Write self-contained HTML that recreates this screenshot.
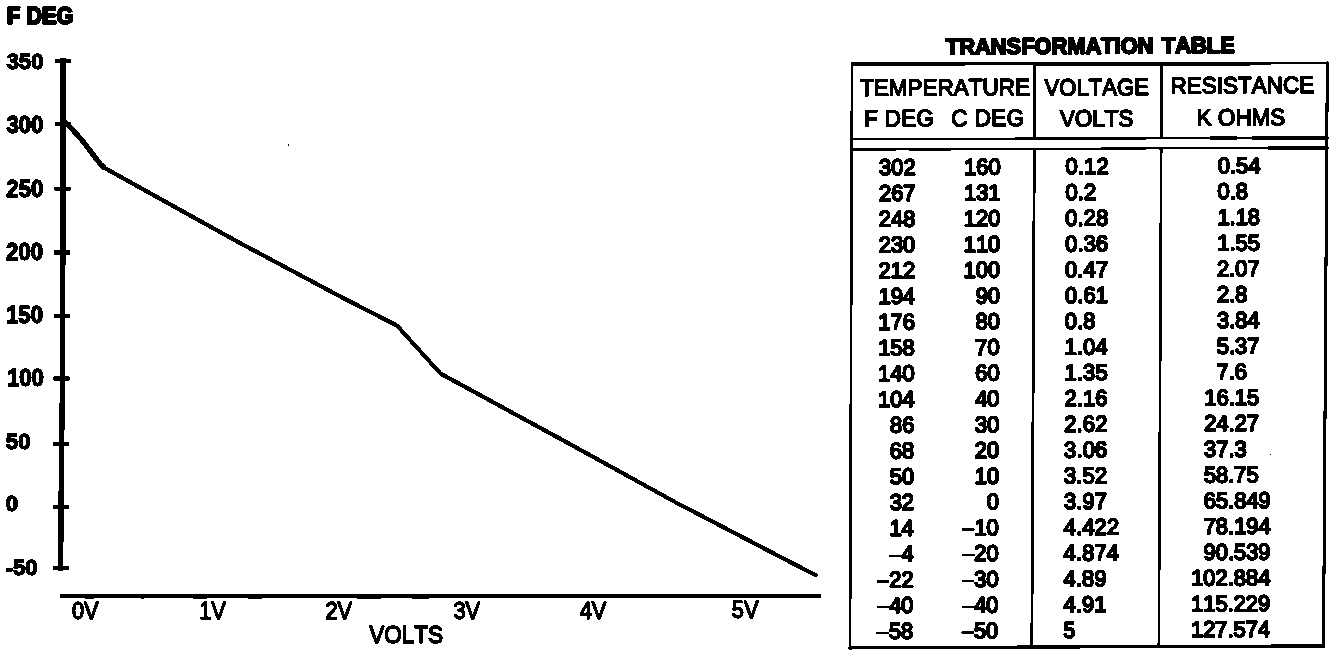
<!DOCTYPE html>
<html lang="en"><head><meta charset="utf-8"><title>Transformation Table</title>
<style>
html,body{margin:0;padding:0;background:#fff;}
body{width:1344px;height:656px;overflow:hidden;}
svg{display:block;}
text{font-family:"Liberation Sans",sans-serif;fill:#000;stroke:#000;stroke-linejoin:round;font-kerning:none;}
.fd{font-weight:bold;font-size:24px;stroke-width:2.2px;}
.yl{font-weight:bold;font-size:22.2px;stroke-width:1.35px;}
.xl{font-size:21.8px;stroke-width:1.4px;}
.xv{font-size:22.5px;stroke-width:1.5px;}
.ti{font-weight:bold;font-size:21.6px;stroke-width:1.9px;}
.th{font-size:22.5px;stroke-width:1.5px;}
.th2{font-size:22.45px;stroke-width:1.5px;}
.td{font-size:21.9px;stroke-width:1.9px;}
.mn{stroke-width:.5px;}
</style></head><body>
<svg width="1344" height="656" viewBox="0 0 1344 656">
<defs><filter id="bw" x="0" y="0" width="1344" height="656" filterUnits="userSpaceOnUse" color-interpolation-filters="sRGB"><feComponentTransfer><feFuncR type="discrete" tableValues="0 1"/><feFuncG type="discrete" tableValues="0 1"/><feFuncB type="discrete" tableValues="0 1"/></feComponentTransfer></filter></defs>
<g filter="url(#bw)">
<rect width="1344" height="656" fill="#fff"/>
<text class="fd" transform="translate(6.9,24.0) scale(1,1.0)" textLength="66.6" lengthAdjust="spacingAndGlyphs">F DEG</text>
<polygon points="60.2,58 66.0,58 65.3,350 63.8,500 63.3,570.8 58.2,570.8 58.4,500 60.1,350"/>
<rect x="55.0" y="58.8" width="16.2" height="4.2"/>
<text class="yl" transform="translate(6.5,69.4) scale(1,0.99)">350</text>
<rect x="54.7" y="121.6" width="16.2" height="4.2"/>
<text class="yl" transform="translate(6.4,133.3) scale(1,1.1)">300</text>
<rect x="54.4" y="186.6" width="16.2" height="4.2"/>
<text class="yl" transform="translate(6.3,197.0) scale(1,1.1)">250</text>
<rect x="54.1" y="250.4" width="16.2" height="4.2"/>
<text class="yl" transform="translate(6.1,260.2) scale(1,1.1)">200</text>
<rect x="53.8" y="314.0" width="16.2" height="4.2"/>
<text class="yl" transform="translate(6.0,322.5) scale(1,1.1)">150</text>
<rect x="53.5" y="376.5" width="16.2" height="4.2"/>
<text class="yl" transform="translate(6.9,385.6) scale(1,1.1)">100</text>
<rect x="53.2" y="442.0" width="16.2" height="4.2"/>
<text class="yl" transform="translate(5.8,449.4) scale(1,0.99)">50</text>
<rect x="52.9" y="504.6" width="16.2" height="4.2"/>
<text class="yl" transform="translate(5.7,511.2) scale(1,0.99)">0</text>
<rect x="52.6" y="566.0" width="16.2" height="4.2"/>
<text class="yl" transform="translate(5.5,575.0) scale(1,0.99)">-50</text>
<rect x="60" y="593.6" width="761.2" height="4.4"/>
<rect x="85" y="597.5" width="9" height="1.6"/>
<rect x="141" y="597.5" width="3" height="1.6"/>
<rect x="193" y="597.5" width="14" height="1.6"/>
<rect x="248" y="597.5" width="14" height="1.6"/>
<rect x="357" y="597.5" width="24" height="1.6"/>
<rect x="412" y="597.5" width="17" height="1.6"/>
<text class="xl" transform="translate(71.9,619.4) scale(1,1.065)">0V</text>
<text class="xl" transform="translate(199.2,619.4) scale(1,1.065)">1V</text>
<text class="xl" transform="translate(325.4,619.3) scale(1,1.065)">2V</text>
<text class="xl" transform="translate(453.4,619.2) scale(1,1.065)">3V</text>
<text class="xl" transform="translate(579.7,618.8) scale(1,1.065)">4V</text>
<text class="xl" transform="translate(731.8,617.8) scale(1,1.065)">5V</text>
<text class="xv" transform="translate(369.2,643.2) scale(1,1.07)">VOLTS</text>
<polyline fill="none" stroke="#000" stroke-width="5.2" stroke-linejoin="round" stroke-linecap="butt" points="62,119.6 67.7,124.6 80.4,138.2 90.1,150.6 99.9,163.6 104.2,167.9"/>
<polyline fill="none" stroke="#000" stroke-width="4.2" stroke-linejoin="round" stroke-linecap="round" points="103.6,167.3 238.7,242.3 340,296.4 397,325.6 440.6,373.7 560,438.7 675,502 815.5,575.2"/>
<rect x="288" y="144.5" width="1" height="1"/>
<text class="ti" transform="translate(1090.3,53.6) rotate(-0.33) scale(1,1.05)" text-anchor="middle" textLength="289" lengthAdjust="spacingAndGlyphs" word-spacing="2.2">TRANSFORMATION TABLE</text>
<polygon points="851.2,61.9 965,61.9 965,62.5 1034,62.4 1034,61.9 1328.4,61.6 1328.4,64.3 1250,64.5 1250,65.9 1034,66.1 1034,64.7 965,64.7 965,66.0 851.2,66.0"/>
<polygon points="848.7,646.2 1325.0,644.4 1325.0,647.6 848.7,649.5"/>
<polygon points="850.7,62.0 853.3,62.0 851.3,649.5 848.7,649.5"/>
<polygon points="1033.3,62.0 1036.1,62.0 1035.8,139.5 1032.9,139.5"/>
<polygon points="1032.9,148.2 1035.7,148.2 1033.2,648.8 1030.4,648.8"/>
<polygon points="1160.2,62.0 1162.9,62.0 1162.6,139.0 1159.9,139.0"/>
<polygon points="1159.9,147.6 1162.5,147.6 1160.1,648.3 1157.5,648.3"/>
<polygon points="1325.8,62.0 1328.8,62.0 1325.0,647.6 1322.0,647.6"/>
<polygon points="850.8,137.8 1328.4,136.8 1328.4,139.2 850.8,140.2"/>
<polygon points="1252,136.4 1326.5,136.1 1326.5,140.0 1252,140.2"/><polygon points="1210,136.6 1237,136.5 1237,140.2 1210,140.3"/>
<polygon points="850.8,148.1 1328.4,146.9 1328.4,149.1 850.8,150.2"/>
<polygon points="1268,146.4 1326.5,146.2 1326.5,149.7 1268,149.9"/><polygon points="851,148.2 896,148.1 896,151.2 851,151.3"/><polygon points="909,148.0 951,147.9 951,151.0 909,151.1"/>
<text class="th" transform="translate(860.0,95.9) rotate(-0.28) scale(1,1.04)">TEMPERATURE</text>
<text class="th2" transform="translate(864.3,126.5) rotate(-0.28) scale(1,1.05)" letter-spacing="0.25">F DEG</text>
<text class="th2" transform="translate(951.3,126.2) rotate(-0.28) scale(1,1.05)" letter-spacing="0.45">C DEG</text>
<text class="th" transform="translate(1096.8,95.3) rotate(-0.28) scale(1,1.04)" text-anchor="middle" textLength="104.6" lengthAdjust="spacingAndGlyphs">VOLTAGE</text>
<text class="th2" transform="translate(1096.7,126.5) rotate(-0.28) scale(1,1.05)" text-anchor="middle">VOLTS</text>
<text class="th" transform="translate(1242.4,93.3) rotate(-0.28) scale(1,1.04)" text-anchor="middle">RESISTANCE</text>
<text class="th2" transform="translate(1241.0,125.4) rotate(-0.28) scale(1,1.05)" text-anchor="middle">K OHMS</text>
<text class="td" transform="translate(915.6,174.9) rotate(-0.28) scale(1,1.03)" text-anchor="end">302</text>
<text class="td" transform="translate(1000.6,174.5) rotate(-0.28) scale(1,1.03)" text-anchor="end">160</text>
<text class="td" transform="translate(1065.5,174.1) rotate(-0.28) scale(1,1.03)" letter-spacing="0.15">0.12</text>
<text class="td" transform="translate(1217.7,173.3) rotate(-0.28) scale(1,1.03)">0.54</text>
<text class="td" transform="translate(915.5,200.7) rotate(-0.28) scale(1,1.03)" text-anchor="end">267</text>
<text class="td" transform="translate(1000.5,200.2) rotate(-0.28) scale(1,1.03)" text-anchor="end">131</text>
<text class="td" transform="translate(1065.4,199.9) rotate(-0.28) scale(1,1.03)" letter-spacing="0.15">0.2</text>
<text class="td" transform="translate(1217.5,199.1) rotate(-0.28) scale(1,1.03)">0.8</text>
<text class="td" transform="translate(915.4,226.4) rotate(-0.28) scale(1,1.03)" text-anchor="end">248</text>
<text class="td" transform="translate(1000.4,226.0) rotate(-0.28) scale(1,1.03)" text-anchor="end">120</text>
<text class="td" transform="translate(1065.3,225.7) rotate(-0.28) scale(1,1.03)" letter-spacing="0.15">0.28</text>
<text class="td" transform="translate(1217.4,224.9) rotate(-0.28) scale(1,1.03)">1.18</text>
<text class="td" transform="translate(915.3,252.2) rotate(-0.28) scale(1,1.03)" text-anchor="end">230</text>
<text class="td" transform="translate(1000.3,251.7) rotate(-0.28) scale(1,1.03)" text-anchor="end">110</text>
<text class="td" transform="translate(1065.2,251.4) rotate(-0.28) scale(1,1.03)" letter-spacing="0.15">0.36</text>
<text class="td" transform="translate(1217.3,250.6) rotate(-0.28) scale(1,1.03)">1.55</text>
<text class="td" transform="translate(915.1,278.0) rotate(-0.28) scale(1,1.03)" text-anchor="end">212</text>
<text class="td" transform="translate(1000.1,277.5) rotate(-0.28) scale(1,1.03)" text-anchor="end">100</text>
<text class="td" transform="translate(1065.0,277.2) rotate(-0.28) scale(1,1.03)" letter-spacing="0.15">0.47</text>
<text class="td" transform="translate(1217.1,276.4) rotate(-0.28) scale(1,1.03)">2.07</text>
<text class="td" transform="translate(915.0,303.7) rotate(-0.28) scale(1,1.03)" text-anchor="end">194</text>
<text class="td" transform="translate(1000.0,303.3) rotate(-0.28) scale(1,1.03)" text-anchor="end">90</text>
<text class="td" transform="translate(1064.9,302.9) rotate(-0.28) scale(1,1.03)" letter-spacing="0.15">0.61</text>
<text class="td" transform="translate(1217.0,302.1) rotate(-0.28) scale(1,1.03)">2.8</text>
<text class="td" transform="translate(914.9,329.5) rotate(-0.28) scale(1,1.03)" text-anchor="end">176</text>
<text class="td" transform="translate(999.9,329.0) rotate(-0.28) scale(1,1.03)" text-anchor="end">80</text>
<text class="td" transform="translate(1064.8,328.7) rotate(-0.28) scale(1,1.03)" letter-spacing="0.15">0.8</text>
<text class="td" transform="translate(1216.9,327.9) rotate(-0.28) scale(1,1.03)">3.84</text>
<text class="td" transform="translate(914.7,355.2) rotate(-0.28) scale(1,1.03)" text-anchor="end">158</text>
<text class="td" transform="translate(999.7,354.8) rotate(-0.28) scale(1,1.03)" text-anchor="end">70</text>
<text class="td" transform="translate(1064.6,354.5) rotate(-0.28) scale(1,1.03)" letter-spacing="0.15">1.04</text>
<text class="td" transform="translate(1216.8,353.7) rotate(-0.28) scale(1,1.03)">5.37</text>
<text class="td" transform="translate(914.6,381.0) rotate(-0.28) scale(1,1.03)" text-anchor="end">140</text>
<text class="td" transform="translate(999.6,380.5) rotate(-0.28) scale(1,1.03)" text-anchor="end">60</text>
<text class="td" transform="translate(1064.5,380.2) rotate(-0.28) scale(1,1.03)" letter-spacing="0.15">1.35</text>
<text class="td" transform="translate(1216.6,379.4) rotate(-0.28) scale(1,1.03)">7.6</text>
<text class="td" transform="translate(914.5,406.8) rotate(-0.28) scale(1,1.03)" text-anchor="end">104</text>
<text class="td" transform="translate(999.5,406.3) rotate(-0.28) scale(1,1.03)" text-anchor="end">40</text>
<text class="td" transform="translate(1064.4,406.0) rotate(-0.28) scale(1,1.03)" letter-spacing="0.15">2.16</text>
<text class="td" transform="translate(1204.3,405.2) rotate(-0.28) scale(1,1.03)">16.15</text>
<text class="td" transform="translate(914.4,432.5) rotate(-0.28) scale(1,1.03)" text-anchor="end">86</text>
<text class="td" transform="translate(999.4,432.1) rotate(-0.28) scale(1,1.03)" text-anchor="end">30</text>
<text class="td" transform="translate(1064.3,431.7) rotate(-0.28) scale(1,1.03)" letter-spacing="0.15">2.62</text>
<text class="td" transform="translate(1204.2,431.0) rotate(-0.28) scale(1,1.03)">24.27</text>
<text class="td" transform="translate(914.2,458.3) rotate(-0.28) scale(1,1.03)" text-anchor="end">68</text>
<text class="td" transform="translate(999.2,457.8) rotate(-0.28) scale(1,1.03)" text-anchor="end">20</text>
<text class="td" transform="translate(1064.1,457.5) rotate(-0.28) scale(1,1.03)" letter-spacing="0.15">3.06</text>
<text class="td" transform="translate(1204.1,456.8) rotate(-0.28) scale(1,1.03)">37.3</text>
<text class="td" transform="translate(914.1,484.0) rotate(-0.28) scale(1,1.03)" text-anchor="end">50</text>
<text class="td" transform="translate(999.1,483.6) rotate(-0.28) scale(1,1.03)" text-anchor="end">10</text>
<text class="td" transform="translate(1064.0,483.3) rotate(-0.28) scale(1,1.03)" letter-spacing="0.15">3.52</text>
<text class="td" transform="translate(1203.9,482.5) rotate(-0.28) scale(1,1.03)">58.75</text>
<text class="td" transform="translate(914.0,509.8) rotate(-0.28) scale(1,1.03)" text-anchor="end">32</text>
<text class="td" transform="translate(999.0,509.3) rotate(-0.28) scale(1,1.03)" text-anchor="end">0</text>
<text class="td" transform="translate(1063.9,509.0) rotate(-0.28) scale(1,1.03)" letter-spacing="0.15">3.97</text>
<text class="td" transform="translate(1203.8,508.3) rotate(-0.28) scale(1,1.03)">65.849</text>
<text class="td" transform="translate(913.8,535.6) rotate(-0.28) scale(1,1.03)" text-anchor="end">14</text>
<text class="td" transform="translate(998.8,535.1) rotate(-0.28) scale(1,1.03)" text-anchor="end"><tspan class="mn">–</tspan>10</text>
<text class="td" transform="translate(1063.7,534.8) rotate(-0.28) scale(1,1.03)" letter-spacing="0.15">4.422</text>
<text class="td" transform="translate(1203.7,534.0) rotate(-0.28) scale(1,1.03)">78.194</text>
<text class="td" transform="translate(913.7,561.3) rotate(-0.28) scale(1,1.03)" text-anchor="end"><tspan class="mn">–</tspan>4</text>
<text class="td" transform="translate(998.7,560.9) rotate(-0.28) scale(1,1.03)" text-anchor="end"><tspan class="mn">–</tspan>20</text>
<text class="td" transform="translate(1063.6,560.5) rotate(-0.28) scale(1,1.03)" letter-spacing="0.15">4.874</text>
<text class="td" transform="translate(1203.6,559.8) rotate(-0.28) scale(1,1.03)">90.539</text>
<text class="td" transform="translate(913.6,587.1) rotate(-0.28) scale(1,1.03)" text-anchor="end"><tspan class="mn">–</tspan>22</text>
<text class="td" transform="translate(998.6,586.6) rotate(-0.28) scale(1,1.03)" text-anchor="end"><tspan class="mn">–</tspan>30</text>
<text class="td" transform="translate(1063.5,586.3) rotate(-0.28) scale(1,1.03)" letter-spacing="0.15">4.89</text>
<text class="td" transform="translate(1191.2,585.6) rotate(-0.28) scale(1,1.03)">102.884</text>
<text class="td" transform="translate(913.5,612.8) rotate(-0.28) scale(1,1.03)" text-anchor="end"><tspan class="mn">–</tspan>40</text>
<text class="td" transform="translate(998.5,612.4) rotate(-0.28) scale(1,1.03)" text-anchor="end"><tspan class="mn">–</tspan>40</text>
<text class="td" transform="translate(1063.4,612.1) rotate(-0.28) scale(1,1.03)" letter-spacing="0.15">4.91</text>
<text class="td" transform="translate(1191.1,611.4) rotate(-0.28) scale(1,1.03)">115.229</text>
<text class="td" transform="translate(913.3,638.6) rotate(-0.28) scale(1,1.03)" text-anchor="end"><tspan class="mn">–</tspan>58</text>
<text class="td" transform="translate(998.3,638.1) rotate(-0.28) scale(1,1.03)" text-anchor="end"><tspan class="mn">–</tspan>50</text>
<text class="td" transform="translate(1063.2,637.8) rotate(-0.28) scale(1,1.03)" letter-spacing="0.15">5</text>
<text class="td" transform="translate(1191.0,637.1) rotate(-0.28) scale(1,1.03)">127.574</text>
<rect x="1270" y="454" width="1.4" height="1.4"/>
</g>
</svg>
</body></html>
